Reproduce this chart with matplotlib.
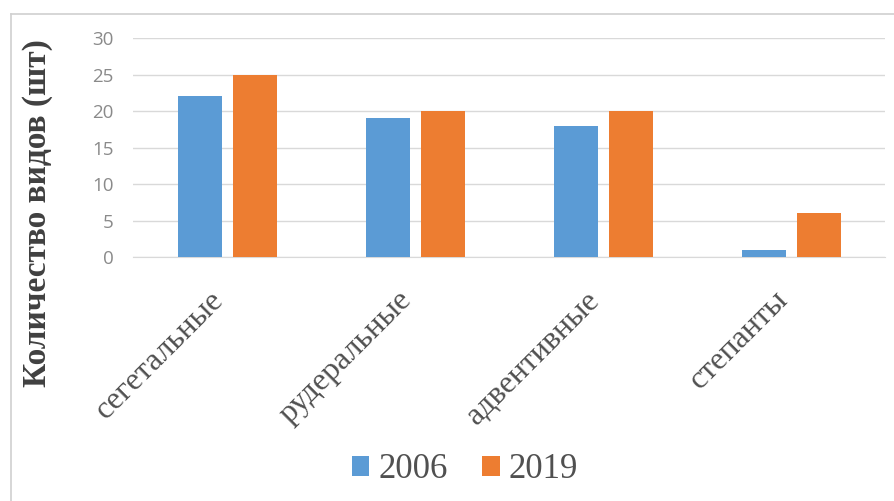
import matplotlib.pyplot as plt
import numpy as np
from matplotlib.lines import Line2D
from matplotlib.transforms import ScaledTranslation

# Number of weed species by group
categories = ["сегетальные", "рудеральные", "адвентивные", "степанты"]
values_2006 = [22, 19, 18, 1]
values_2019 = [25, 20, 20, 6]
years = ["2006", "2019"]

BLUE = "#5B9BD5"
ORANGE = "#ED7D31"
SERIF = ["Liberation Serif", "DejaVu Serif"]

fig = plt.figure(figsize=(8.94, 5.01), dpi=100)
ax = fig.add_axes([0.149, 0.487, 0.841, 0.437])

x = np.arange(len(categories))
width = 0.234
offset = 0.146
ax.bar(x - offset, values_2006, width, color=BLUE, label=years[0], zorder=3)
ax.bar(x + offset, values_2019, width, color=ORANGE, label=years[1], zorder=3)

ax.set_xlim(-0.5, len(categories) - 0.5)
ax.set_ylim(0, 30)
ax.set_yticks(range(0, 31, 5))
ax.grid(axis="y", color="#d9d9d9", linewidth=1, zorder=0)
for side in ["top", "right", "left"]:
    ax.spines[side].set_visible(False)
ax.spines["bottom"].set_color("#d9d9d9")
ax.tick_params(axis="both", length=0)
ax.tick_params(axis="y", labelsize=13.5, labelcolor="#8a8a8a", pad=14)
for lbl in ax.get_yticklabels():
    lbl.set_family(["Open Sans", "DejaVu Sans"])

ax.set_xticks(x)
ax.set_xticklabels(categories, rotation=45, ha="right", rotation_mode="anchor",
                   family=SERIF, fontsize=23, color="#505050")
ax.tick_params(axis="x", pad=22)
# nudge the slanted labels left so they end under the group centre
shift = ScaledTranslation(-0.18, 0.02, fig.dpi_scale_trans)
for lbl in ax.get_xticklabels():
    lbl.set_transform(lbl.get_transform() + shift)

fig.text(0.042, 0.575, "Количество видов (шт)", rotation=90, ha="center", va="center",
         family=SERIF, fontsize=24, fontweight="bold", color="#404040")

leg = fig.legend(loc="center", bbox_to_anchor=(0.52, 0.063), ncol=2, frameon=False,
                 prop={"family": SERIF, "size": 25}, handlelength=0.5, handleheight=0.5,
                 handletextpad=0.25, columnspacing=1.0)
for t in leg.get_texts():
    t.set_color("#505050")

# light frame along the top and left edges
fig.add_artist(Line2D([0.012, 1.0], [0.972, 0.972], color="#d0d0d0", linewidth=1.2))
fig.add_artist(Line2D([0.012, 0.012], [0.0, 0.972], color="#d0d0d0", linewidth=1.2))

fig.savefig("out.png", dpi=100)
